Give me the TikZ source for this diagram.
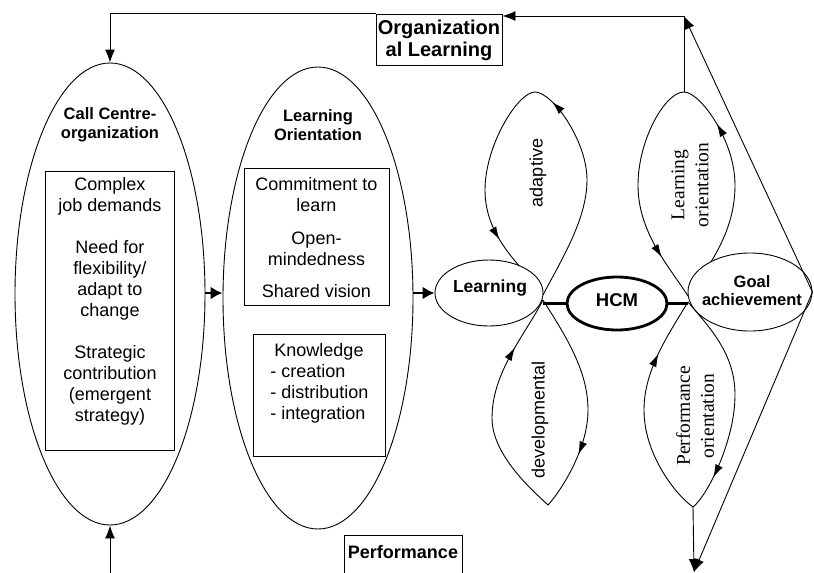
\documentclass[tikz,border=0pt]{standalone}
\usepackage{fontspec}
\setmainfont{Liberation Sans}
\newfontfamily\petalserif{Liberation Serif}
\usetikzlibrary{shapes.geometric,arrows.meta,decorations.markings,calc}
\begin{document}
\begin{tikzpicture}[x=1pt,y=-1pt,
  line width=0.9pt,
  bigell/.style={draw, ellipse, inner sep=0pt, fill=white},
  boxed/.style={draw, rectangle, inner sep=0pt},
  arr/.style={-{Latex[length=13pt,width=10pt]}},
  thickarr/.style={line width=2.8pt,-{Latex[length=12pt,width=13pt]}},
  bar/.style={line width=2.8pt},
  body/.style={font=\fontsize{18}{21}\selectfont, align=center, inner sep=0pt},
  btitle/.style={font=\fontsize{16.5}{19}\selectfont\bfseries, align=center, inner sep=0pt},
  plabel/.style={font=\fontsize{18}{21}\selectfont, inner sep=0pt, rotate=90},
  slabel/.style={font=\petalserif\fontsize{19.5}{24}\selectfont, align=center, inner sep=0pt, rotate=90},
]
\useasboundingbox (0,0) rectangle (814,573);
\clip (0,0) rectangle (814,573);

% big ellipses
\node[bigell, minimum width=190pt, minimum height=462pt] (cc) at (110,294) {};
\node[bigell, minimum width=190pt, minimum height=462pt] (lo) at (318,298) {};
\node[btitle] (cctitle) at (110,125) {Call Centre-\\organization};
\node[btitle] (lotitle) at (318,125) {Learning\\Orientation};

% boxes
\node[boxed, minimum width=129pt, minimum height=279pt] (box1) at (109.5,310.5) {};
\node[body] (box1txt) at (110,301) {Complex\\job demands\\[21pt]Need for\\flexibility/\\adapt to\\change\\[21pt]Strategic\\contribution\\(emergent\\strategy)};
\node[boxed, minimum width=145pt, minimum height=137pt] (box2) at (316.5,236.5) {};
\node[body] (box2txt) at (316.5,238) {Commitment to\\learn\\[12pt]Open-\\mindedness\\[11pt]Shared vision};
\node[boxed, minimum width=132pt, minimum height=122pt] (box3) at (319,395) {};
\node[body] (box3head) at (319,352) {Knowledge};
\node[body, align=left, anchor=west] (box3txt) at (270,394) {- creation\\- distribution\\- integration};

% petals
\draw[postaction={decorate}, decoration={markings,
    mark=at position 0.45 with {\arrow{Latex[length=13pt,width=8pt]}},
    mark=at position 0.85 with {\arrow{Latex[length=13pt,width=8pt]}}}]
  (543,295) .. controls (560,262) and (587,220) .. (587,180)
  .. controls (587,140) and (552,92) .. (535,92)
  .. controls (518,92) and (485,145) .. (485,190)
  .. controls (485,240) and (525,268) .. (543,295);
\draw[postaction={decorate}, decoration={markings,
    mark=at position 0.36 with {\arrow{Latex[length=13pt,width=8pt]}},
    mark=at position 0.88 with {\arrow{Latex[length=13pt,width=8pt]}}}]
  (543,300) .. controls (565,335) and (588,370) .. (588,410)
  .. controls (588,450) and (560,492) .. (548,505)
  .. controls (532,490) and (492,455) .. (492,418)
  .. controls (492,372) and (525,335) .. (543,300);
\draw[postaction={decorate}, decoration={markings,
    mark=at position 0.40 with {\arrow{Latex[length=13pt,width=8pt]}},
    mark=at position 0.90 with {\arrow{Latex[length=13pt,width=8pt]}}}]
  (688,296) .. controls (712,262) and (735,230) .. (735,185)
  .. controls (735,140) and (700,92) .. (684,92)
  .. controls (665,92) and (638,140) .. (638,185)
  .. controls (638,232) and (668,265) .. (688,296);
\draw[postaction={decorate}, decoration={markings,
    mark=at position 0.42 with {\arrow{Latex[length=13pt,width=8pt]}},
    mark=at position 0.87 with {\arrow{Latex[length=13pt,width=8pt]}}}]
  (688,302) .. controls (712,330) and (735,355) .. (735,395)
  .. controls (735,440) and (708,495) .. (693,507)
  .. controls (676,495) and (644,455) .. (644,410)
  .. controls (644,370) and (668,335) .. (688,302);
\node[plabel] (adlbl) at (538,173) {adaptive};
\node[plabel] (devlbl) at (540,420) {developmental};
\node[slabel] (lolbl) at (690,185) {Learning\\orientation};
\node[slabel] (polbl) at (695,416) {Performance\\orientation};

% small ellipses
\node[bigell, minimum width=108pt, minimum height=66pt] (learn) at (489,293) {};
\node[font=\fontsize{17.5}{20}\selectfont\bfseries, inner sep=0pt] (learntxt) at (490,288) {Learning};
\node[bigell, line width=2.8pt, minimum width=100pt, minimum height=53pt] (hcm) at (617,303.5) {};
\node[font=\fontsize{18.5}{21}\selectfont\bfseries, inner sep=0pt] (hcmtxt) at (617,300) {HCM};
\node[bigell, minimum width=124pt, minimum height=78pt] (goal) at (750,292) {};
\node[font=\fontsize{16.5}{18}\selectfont\bfseries, align=center, inner sep=0pt] (goaltxt) at (752,291) {Goal\\achievement};

% top and bottom boxes
\node[boxed, fill=white, minimum width=126pt, minimum height=51pt] (ol) at (439,39.5) {};
\node[font=\fontsize{20}{22}\selectfont\bfseries, align=center, inner sep=0pt] (oltxt) at (439,40) {Organization\\al Learning};
\node[boxed, minimum width=118pt, minimum height=60pt, anchor=north] (perf) at (403,535) {};
\node[font=\fontsize{18}{21}\selectfont\bfseries, inner sep=0pt] (perftxt) at (403,552) {Performance};

% coordinates
\coordinate (c1) at (684,16);
\coordinate (c2) at (694,572);
\coordinate (c3) at (110,574);
\coordinate (lotop) at (684,92);
\coordinate (pobot) at (693,507);

% connectors
\draw[thickarr] (cc.east |- learn.west) -- (lo.west |- learn.west);
\draw[thickarr] (lo.east |- learn.west) -- (learn.west);
\draw[bar] (learn.east |- hcm.west) -- (hcm.west);
\draw[bar] (hcm.east) -- (hcm.east -| goal.west);
\draw[arr] (ol.north west) -| (cc.north);
\draw[arr] (lotop) -- (c1) -- (c1 -| ol.east);
\draw[arr] (goal.east) -- (c1);
\draw[arr] (goal.east) -- (c2);
\draw[arr] (pobot) -- (c2);
\draw[arr] (c3) -- (cc.south);
\end{tikzpicture}
\end{document}
